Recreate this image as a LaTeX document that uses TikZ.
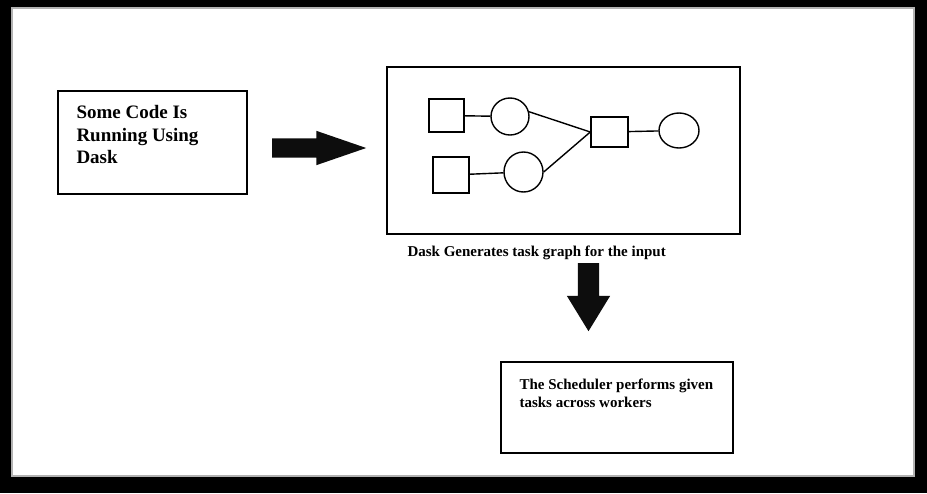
\documentclass[tikz,border=0pt]{standalone}
\usepackage{fontspec}
\setmainfont{Liberation Serif}
\usepackage{tikz}
\usetikzlibrary{shapes.geometric}
\usetikzlibrary{shapes.arrows}
\usetikzlibrary{positioning}
\tikzset{
  stage box/.style={draw,line width=1.4pt,inner sep=0pt},
  stage text/.style={inner sep=0pt,align=left,font=\bfseries\fontsize{15}{18}\selectfont},
  task node/.style={draw,line width=1.4pt,inner sep=0pt},
  task circle/.style={ellipse,draw,line width=1.4pt,inner sep=0pt},
  task edge/.style={line width=1.4pt},
  big arrow/.style={single arrow,fill=black!95,draw=none,inner xsep=0pt,anchor=tail}
}

\begin{document}
\begin{tikzpicture}[x=1pt,y=-1pt]
        % frame
        \fill[black] (0,0) rectangle (927,493);
        \filldraw[fill=white,draw=gray!60,line width=1.5pt] (12,8) rectangle (914,476);
        % stages
        \node [stage box,minimum width=189pt,minimum height=103pt] (code) at (152.5,142.5) {};
        \node [stage text,font=\bfseries\fontsize{19}{22.5}\selectfont,below right=15pt and 19pt of code.north west] (codetext)
          {Some Code Is\\Running Using\\Dask};
        \node [stage box,minimum width=353pt,minimum height=167pt] (graph) at (563.5,150.5) {};
        \node [stage text,below right=11pt and 21pt of graph.south west] (graphtext)
          {Dask Generates task graph for the input};
        \node [stage box,minimum width=232pt,minimum height=91pt] (sched) at (617,407.5) {};
        \node [stage text,below right=17pt and 19pt of sched.north west] (schedtext)
          {The Scheduler performs given\\tasks across workers};
        % big arrows
        \node [big arrow,inner ysep=9.5pt,minimum height=94pt,minimum width=34pt,
               single arrow head extend=7.5pt,single arrow tip angle=38] (toright) at (272,148) {};
        \node [big arrow,inner ysep=10.5pt,minimum height=68pt,minimum width=43pt,rotate=-90,
               single arrow head extend=11pt,single arrow tip angle=63] (todown) at (588.5,263) {};
        % task graph
        \node [task node,minimum width=35pt,minimum height=33pt] (s1) at (446.5,115.5) {};
        \node [task circle,minimum width=38pt,minimum height=37pt] (c1) at (510,116.5) {};
        \node [task node,minimum width=36pt,minimum height=36pt] (s2) at (451,175) {};
        \node [task circle,minimum width=39pt,minimum height=40pt] (c2) at (523.5,172) {};
        \node [task node,minimum width=37pt,minimum height=30pt] (s3) at (609.5,132) {};
        \node [task circle,minimum width=40pt,minimum height=35pt] (c3) at (679,130.5) {};
        \draw [task edge] (s1) -- (c1);
        \draw [task edge] (s2) -- (c2);
        \draw [task edge] (c1.14) -- (s3.west);
        \draw [task edge] (c2.east) -- (s3.west);
        \draw [task edge] (s3) -- (c3);
\end{tikzpicture}
\end{document}
